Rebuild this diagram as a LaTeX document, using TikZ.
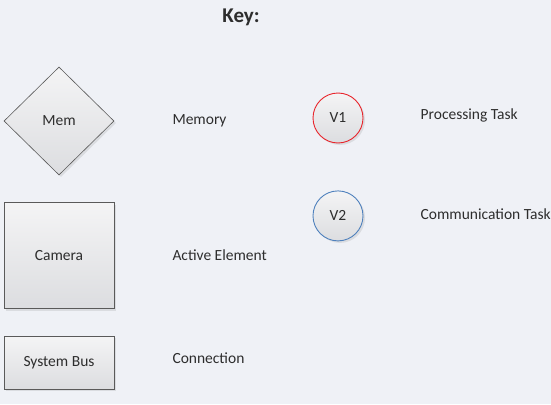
\documentclass[tikz,border=0pt]{standalone}
\usepackage{fontspec}
\setmainfont{Carlito}
\usepackage{tikz}
\usetikzlibrary{positioning,shapes,shadows}

\definecolor{keybg}{RGB}{239,241,246}
\definecolor{shapetop}{RGB}{244,244,245}
\definecolor{shapebot}{RGB}{220,221,224}
\definecolor{shapeline}{RGB}{90,90,90}
\definecolor{proctask}{RGB}{232,36,43}
\definecolor{commtask}{RGB}{79,129,189}
\definecolor{keytext}{RGB}{45,45,45}

\begin{document}
\begin{tikzpicture}[
  x=1pt,y=1pt,
  node distance=27pt and 58pt,
  every node/.style={font=\fontsize{15.5}{18}\selectfont,text=keytext},
  keyshape/.style={draw=shapeline,line width=0.6pt,top color=shapetop,bottom color=shapebot,
    drop shadow={opacity=0.18,shadow xshift=2pt,shadow yshift=-2pt}},
  memnode/.style={keyshape,diamond,aspect=1,minimum width=110pt,minimum height=108pt,inner sep=0pt},
  activenode/.style={keyshape,rectangle,minimum width=110pt,minimum height=106pt,inner sep=0pt},
  busnode/.style={keyshape,rectangle,minimum width=110pt,minimum height=53pt,inner sep=0pt},
  tasknode/.style={keyshape,circle,minimum size=50pt,inner sep=0pt,line width=0.9pt},
  keylabel/.style={inner sep=0pt,anchor=west}
]
\fill[keybg] (0,0) rectangle (551,-404);
\useasboundingbox (0,0) rectangle (551,-404);

\node[font=\fontsize{21}{24}\selectfont\bfseries] (key) at (241,-17) {Key:};

\node[memnode] (mem) at (59,-121) {Mem};
\node[activenode,below=of mem] (camera) {Camera};
\node[busnode,below=of camera] (bus) {System Bus};

\node[keylabel,right=of mem] (memory) {Memory};
\node[keylabel,right=of camera] (active) {Active Element};
\node[keylabel,right=of bus,yshift=5pt] (connection) {Connection};

\node[tasknode,draw=proctask] (v1) at (338,-118) {V1};
\node[tasknode,draw=commtask,below=47pt of v1] (v2) {V2};

\node[keylabel,right=57pt of v1,yshift=3pt] (processing) {Processing Task};
\node[keylabel,right=57pt of v2,yshift=2pt] (communication) {Communication Task};

\end{tikzpicture}
\end{document}
